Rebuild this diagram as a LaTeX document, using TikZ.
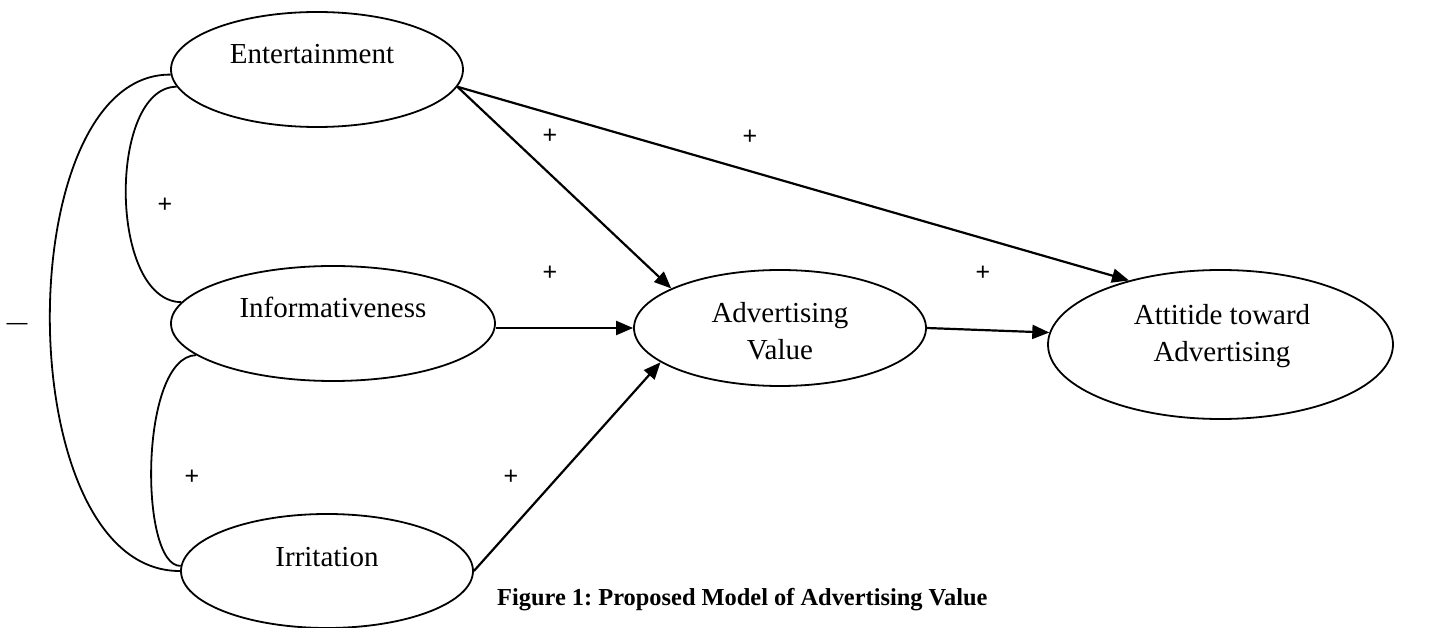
\documentclass[tikz,border=0pt]{standalone}
\usepackage{fontspec}
\setmainfont{Liberation Serif}
\newfontfamily\sansfam{Liberation Sans}
\usetikzlibrary{shapes.geometric,arrows.meta}
\frenchspacing
\begin{document}
\begin{tikzpicture}[x=1pt,y=-1pt,
  latent/.style={ellipse, draw, line width=1.8pt, inner sep=0pt},
  lab/.style={font=\fontsize{29}{37}\selectfont, align=center, inner sep=0pt},
  sign/.style={font=\sansfam\fontsize{25}{28}\selectfont, inner sep=0pt},
  path/.style={line width=2.2pt, -{Triangle[length=17pt,width=14pt]}},
  corr/.style={line width=1.8pt}]
\useasboundingbox (0,0) rectangle (1436,628);
% constructs
\node[latent, minimum width=292pt, minimum height=115pt,
  label={[lab, xshift=-5pt, yshift=15pt]center:Entertainment}] (ent) at (317,69.5) {};
\node[latent, minimum width=324pt, minimum height=115pt,
  label={[lab, yshift=16pt]center:Informativeness}] (inf) at (333,323.5) {};
\node[latent, minimum width=292pt, minimum height=114pt,
  label={[lab, yshift=14pt]center:Irritation}] (irr) at (327,571) {};
\node[latent, minimum width=292pt, minimum height=116pt,
  label={[lab, yshift=-3pt]center:{Advertising\\Value}}] (av) at (780,328) {};
\node[latent, minimum width=345pt, minimum height=149pt,
  label={[lab, xshift=1.5pt, yshift=8pt]center:{Attitide toward\\Advertising}}] (att) at (1220.5,344.5) {};
% paths
\draw[path] (ent.-7) -- (av.160);
\draw[path] (ent.-7) -- (att.145);
\draw[path] (inf.east |- av.west) -- (av.west);
\draw[path] (irr.east) -- (av.196);
\draw[path] (av.east) -- (att.176);
% correlations
\draw[corr] (ent.187) .. controls (108,87) and (108,301) .. (inf.172);
\draw[corr] (inf.193) .. controls (139,357) and (139,567) .. (irr.178);
\draw[corr] (ent.182) .. controls (8,73) and (8,572) .. (irr.180);
% signs
\node[sign] (s1) at (165,205) {+};
\node[sign] (s2) at (192,477) {+};
\node[sign] (s3) at (550,136) {+};
\node[sign] (s4) at (750,137) {+};
\node[sign] (s5) at (550,273) {+};
\node[sign] (s6) at (511,477) {+};
\node[sign] (s7) at (983,273) {+};
\node[font=\sansfam\fontsize{21}{24}\selectfont, inner sep=0pt] (neg) at (17,326) {—};
% caption
\node[anchor=base west, inner sep=0pt, font=\bfseries\fontsize{24.4}{28}\selectfont] (cap) at (497,605) {Figure 1: Proposed Model of Advertising Value};
\end{tikzpicture}
\end{document}
